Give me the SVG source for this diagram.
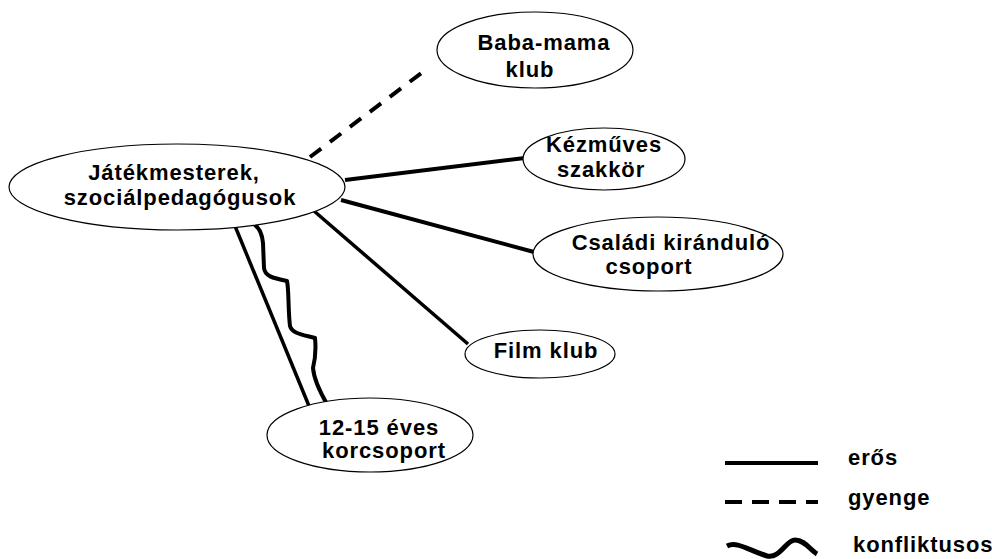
<svg xmlns="http://www.w3.org/2000/svg" width="992" height="559" viewBox="0 0 992 559">
<style>
.n ellipse{fill:#fff;stroke:#000;stroke-width:1.2}
text{font-family:"Liberation Sans",Arial,sans-serif;font-weight:bold;font-size:22px;letter-spacing:0.9px;fill:#000;text-anchor:middle}
.lg text{text-anchor:start}
.c{fill:none;stroke:#000;stroke-linecap:butt}
.strong{stroke-width:4}
.weak{stroke-width:4;stroke-dasharray:14 11}
.conf{stroke-width:4;stroke-linejoin:round}
</style>
<rect width="992" height="559" fill="#fff"/>
<g id="connectors">
<line class="c weak" x1="310" y1="157" x2="428" y2="68"/>
<line class="c strong" x1="345" y1="180" x2="525" y2="158"/>
<line class="c strong" x1="341" y1="200" x2="534" y2="252"/>
<line class="c" stroke-width="3.5" x1="314" y1="211" x2="468" y2="344"/>
<line class="c" stroke-width="3.5" x1="235" y1="226" x2="309" y2="406"/>
<path class="c conf" d="M252,223 C258,226 262,232 263,243 L264,268 C265,276 272,278 287,281 C289,290 288,310 290,326 C292,334 305,335 315,338 C316,348 315,360 313,368 C314,380 320,392 327,404"/>
</g>
<g id="node-main" class="n">
<ellipse cx="177" cy="187" rx="168" ry="43"/>
<text x="174" y="180">Játékmesterek,</text>
<text x="180" y="205">szociálpedagógusok</text>
</g>
<g id="node-baba" class="n">
<ellipse cx="535" cy="50" rx="98" ry="38"/>
<text x="544" y="50">Baba-mama</text>
<text x="530" y="77">klub</text>
</g>
<g id="node-kezmuves" class="n">
<ellipse cx="604" cy="159" rx="81" ry="31"/>
<text x="604" y="152">Kézműves</text>
<text x="601" y="177">szakkör</text>
</g>
<g id="node-csaladi" class="n">
<ellipse cx="658" cy="254" rx="125" ry="37"/>
<text x="671" y="250">Családi kiránduló</text>
<text x="649" y="274">csoport</text>
</g>
<g id="node-film" class="n">
<ellipse cx="540" cy="354" rx="75" ry="24"/>
<text x="546" y="358">Film klub</text>
</g>
<g id="node-korcsoport" class="n">
<ellipse cx="370" cy="435" rx="103" ry="37"/>
<text x="379" y="435">12-15 éves</text>
<text x="384" y="458">korcsoport</text>
</g>
<g id="legend" class="lg">
<line class="c" stroke-width="4" x1="725" y1="463" x2="818" y2="463"/>
<line class="c" stroke-width="4" stroke-dasharray="17 10" x1="725" y1="502" x2="818" y2="502"/>
<path class="c" stroke-width="5" stroke-linejoin="round" d="M727,546 C737,541 748,550 767,556 C780,559 786,540 795,540 C805,540 810,550 817,554"/>
<text x="848" y="465">erős</text>
<text x="848" y="505">gyenge</text>
<text x="853" y="552">konfliktusos</text>
</g>
</svg>
